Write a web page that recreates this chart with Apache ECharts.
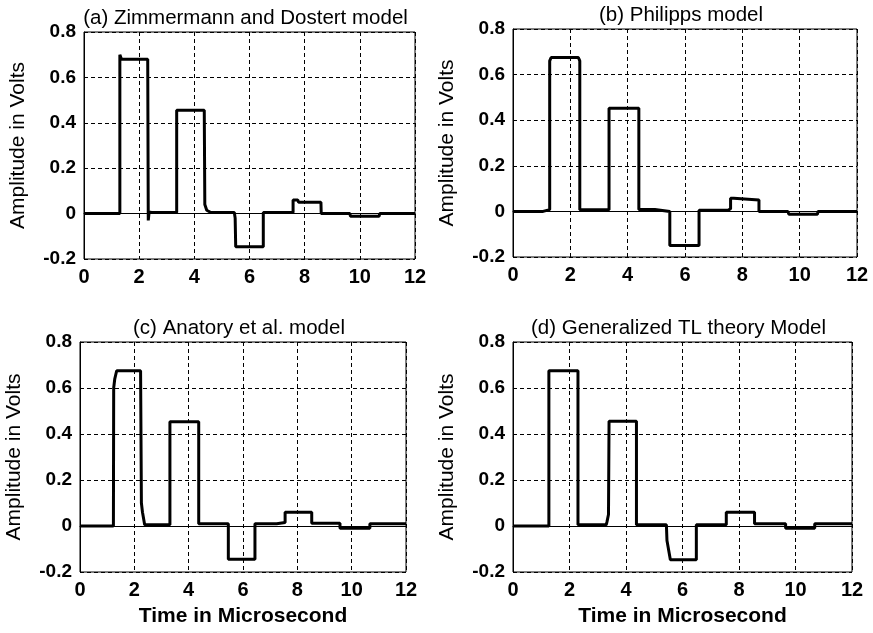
<!DOCTYPE html>
<html>
<head>
<meta charset="utf-8">
<script src="https://cdn.jsdelivr.net/npm/echarts@6/dist/echarts.min.js"></script>
<style>
html, body { margin: 0; padding: 0; background: #fff; }
#chart { width: 873px; height: 633px; }
</style>
</head>
<body>
<div id="chart"></div>
<script>
// values (time in microsecond, amplitude in volts)
var timeA = [0, 1.30, 1.30, 1.36, 2.31, 2.33, 2.36, 2.45, 3.36, 3.36, 4.36, 4.38, 4.45, 4.6, 5.45, 5.47, 5.48, 5.50, 6.50, 6.50, 7.58, 7.58, 7.75, 7.78, 8.59, 8.60, 9.64, 9.66, 10.70, 10.72, 12];
var voltA = [0, 0, 0.70, 0.68, 0.68, -0.03, 0.007, 0.005, 0.005, 0.455, 0.455, 0.04, 0.015, 0.005, 0.005, 0, -0.02, -0.146, -0.146, 0.005, 0.005, 0.06, 0.06, 0.05, 0.05, 0, 0, -0.012, -0.012, 0, 0];

var timeB = [0, 1.05, 1.05, 1.28, 1.28, 1.33, 2.28, 2.33, 2.33, 3.35, 3.35, 4.39, 4.39, 4.95, 4.95, 5.47, 5.47, 6.49, 6.49, 7.5, 7.5, 7.59, 7.59, 7.7, 7.72, 8.58, 8.58, 9.59, 9.62, 10.62, 10.64, 12];
var voltB = [0, 0, 0.008, 0.008, 0.66, 0.675, 0.675, 0.66, 0.007, 0.007, 0.452, 0.452, 0.008, 0.008, 0, 0, -0.15, -0.15, 0.005, 0.005, 0.012, 0.012, 0.058, 0.058, 0.05, 0.05, 0, 0, -0.012, -0.012, 0, 0];

var timeC = [0, 1.23, 1.24, 1.28, 1.35, 2.23, 2.26, 2.3, 2.38, 3.31, 3.31, 4.37, 4.37, 5.46, 5.46, 6.44, 6.44, 7.24, 7.24, 7.55, 7.55, 8.53, 8.53, 9.57, 9.57, 10.67, 10.67, 12];
var voltC = [0, 0, 0.6, 0.64, 0.675, 0.675, 0.1, 0.06, 0.005, 0.005, 0.453, 0.453, 0.01, 0.01, -0.145, -0.145, 0.01, 0.01, 0.015, 0.015, 0.06, 0.06, 0.012, 0.012, -0.01, -0.01, 0.01, 0.01];

var timeD = [0, 1.27, 1.27, 2.3, 2.3, 3.3, 3.33, 3.38, 3.4, 4.37, 4.37, 5.43, 5.45, 5.52, 5.57, 6.49, 6.49, 7.55, 7.55, 8.55, 8.55, 9.65, 9.65, 10.68, 10.68, 12];
var voltD = [0, 0, 0.675, 0.675, 0.005, 0.005, 0.02, 0.05, 0.455, 0.455, 0.005, 0.005, -0.063, -0.07, -0.147, -0.147, 0.005, 0.005, 0.06, 0.06, 0.01, 0.01, -0.01, -0.01, 0.01, 0.01];

var titles = ['(a) Zimmermann and Dostert model', '(b) Philipps model', '(c) Anatory et al. model', '(d) Generalized TL theory Model'];
var yName = 'Amplitude in Volts';
var xName = 'Time in Microsecond';

var FONT = '"Liberation Sans", Arial, Helvetica, sans-serif';

var grids = [
    { left: 84, top: 32, width: 331, height: 227 },
    { left: 513, top: 29, width: 344, height: 228 },
    { left: 80, top: 342, width: 326, height: 230 },
    { left: 513, top: 342, width: 339, height: 230 }
];

function zip(t, v) {
    var out = [];
    for (var i = 0; i < t.length; i++) out.push([t[i], v[i]]);
    return out;
}
var panels = [zip(timeA, voltA), zip(timeB, voltB), zip(timeC, voltC), zip(timeD, voltD)];

var dashed = { show: true, lineStyle: { color: '#000', width: 1, type: [4, 3] } };

var option = {
    backgroundColor: '#fff',
    animation: false,
    grid: [],
    xAxis: [],
    yAxis: [],
    series: [],
    graphic: []
};

grids.forEach(function (g, i) {
    option.grid.push({
        left: g.left, top: g.top, width: g.width, height: g.height,
        show: true, borderColor: '#000', borderWidth: 1, backgroundColor: 'transparent'
    });
    option.xAxis.push({
        type: 'value', gridIndex: i, min: 0, max: 12, interval: 2,
        axisLine: { show: true, lineStyle: { color: '#000', width: 1 } },
        axisTick: { show: false },
        splitLine: dashed,
        axisLabel: { color: '#000', fontFamily: FONT, fontWeight: 'bold', fontSize: 20, margin: 8 },
        name: i >= 2 ? xName : '',
        nameLocation: 'middle', nameGap: 34,
        nameTextStyle: { color: '#000', fontFamily: FONT, fontWeight: 'bold', fontSize: 21 }
    });
    option.yAxis.push({
        type: 'value', gridIndex: i, min: -0.2, max: 0.8, interval: 0.2,
        axisLine: { show: true, lineStyle: { color: '#000', width: 1 } },
        axisTick: { show: false },
        splitLine: dashed,
        axisLabel: { color: '#000', fontFamily: FONT, fontWeight: 'bold', fontSize: 19, margin: 8 },
        name: yName, nameLocation: 'middle', nameRotate: 90, nameGap: 55,
        nameTextStyle: { color: '#000', fontFamily: FONT, fontSize: 21 }
    });
    option.series.push({
        type: 'line', xAxisIndex: i, yAxisIndex: i,
        data: panels[i], showSymbol: false, symbol: 'none',
        lineStyle: { color: '#000', width: 3 }
    });
    option.graphic.push({
        type: 'text',
        x: g.left + g.width / 2 - 4,
        y: g.top - 14,
        style: {
            text: titles[i], fill: '#000',
            font: '20.5px ' + FONT,
            textAlign: 'center', textVerticalAlign: 'middle'
        }
    });
});

var chart = echarts.init(document.getElementById('chart'));
chart.setOption(option);
</script>
</body>
</html>
